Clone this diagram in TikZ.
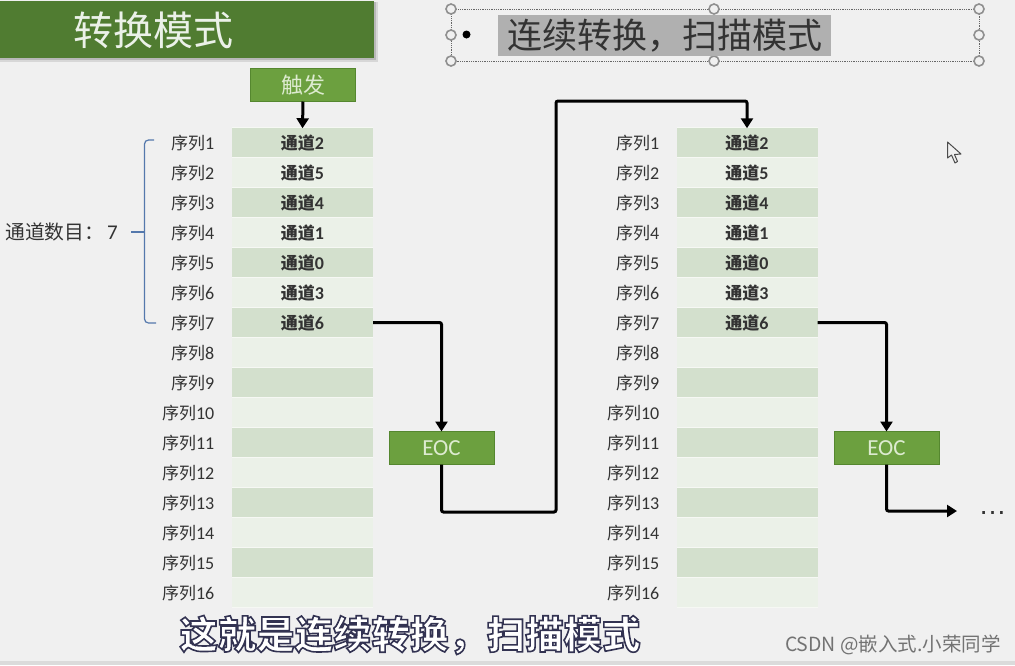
\documentclass[tikz,border=0pt]{standalone}
\usepackage{fontspec}
\setmainfont{Noto Sans CJK SC}
\newfontfamily\latinf{Carlito}
\usetikzlibrary{arrows.meta}
\definecolor{bgc}{HTML}{F0F0F0}
\definecolor{rowdark}{HTML}{D3E0CD}
\definecolor{rowlight}{HTML}{EBF1E8}
\definecolor{sepc}{HTML}{F6F8F4}
\definecolor{titlec}{HTML}{507C31}
\definecolor{boxc}{HTML}{6CA03F}
\definecolor{boxb}{HTML}{55872F}
\definecolor{boxt}{HTML}{DDEBD0}
\definecolor{inkc}{HTML}{333333}
\definecolor{bracec}{HTML}{5478AC}
\definecolor{handlec}{HTML}{8F8F8F}
\newcommand{\fsz}[1]{\fontsize{#1}{#1}\selectfont}
\newcommand{\outlined}[1]{\special{pdf:code q 2 Tr 1.6 w 0.2 0.2 0.32 RG 1 1 1 rg}#1\special{pdf:code Q}}
\tikzset{
  rowcell/.style={minimum width=141pt,minimum height=28.5pt,inner sep=0pt,outer sep=0pt},
  chanlabel/.style={inner sep=0pt,text=inkc,font=\fsz{17}\bfseries},
  seqlabel/.style={anchor=east,inner sep=0pt,text=inkc,font=\fsz{17}},
  greenbox/.style={draw=boxb,line width=1pt,fill=boxc,text=boxt,minimum width=105pt,minimum height=33pt,inner sep=0pt,outer sep=0pt},
  flow/.style={draw=black,line width=3pt,rounded corners=2pt,-{Triangle[length=10pt,width=12pt]}},
  handle/.style={circle,draw=handlec,fill=bgc,line width=1.6pt,minimum size=10pt,inner sep=0pt},
  bracepath/.style={draw=bracec,line width=1.2pt,rounded corners=4pt},
}
\begin{document}
\begin{tikzpicture}[x=1pt,y=-1pt]
\useasboundingbox (0,0) rectangle (1015,665);
\fill[bgc] (0,0) rectangle (1015,665);
\fill[black!14] (0,661) rectangle (1015,665);
% title
\fill[black,opacity=.10] (0,2) rectangle (378,62);
\fill[black,opacity=.14] (0,2) rectangle (376,60);
\node[fill=titlec,minimum width=374pt,minimum height=57pt,inner sep=0pt,anchor=north west] (title) at (0,1) {};
\node[text=rowlight,font=\fsz{40},inner sep=0pt] (titletext) at (153.5,30.5) {转换模式};
% selected text box
\draw[densely dotted,draw=black!60,line width=.8pt] (451,9) rectangle (979,61);
\foreach \n/\x/\y in {a/451/9,b/714/9,c/979/9,d/451/35,e/979/35,f/451/61,g/714/61,h/979/61}
  \node[handle] (hd\n) at (\x,\y) {};
\node[circle,fill=black,minimum size=8pt,inner sep=0pt] (bullet) at (466.5,34.5) {};
\node[fill=black!31,text=inkc,font=\fsz{35},minimum width=333pt,minimum height=41pt,inner sep=0pt] (head) at (664.5,35.5) {连续转换，扫描模式};
% tables
\foreach \t/\xc/\xl in {L/302.5/214.5,R/747/659.5}{
  \fill[sepc] (\xc-70.5,127) rectangle (\xc+70.5,608);
  \foreach \i in {1,...,16}{
    \pgfmathtruncatemacro{\odd}{mod(\i,2)}
    \pgfmathsetmacro{\yc}{112.5+30*\i}
    \ifnum\odd=1 \def\rc{rowdark}\else\def\rc{rowlight}\fi
    \node[rowcell,fill=\rc] (\t r\i) at (\xc,\yc) {};
    \node[seqlabel,yshift=-1pt] (\t s\i) at (\xl,\yc) {序列{\latinf\fsz{18}\i}};
  }
  \foreach \i/\c in {1/2,2/5,3/4,4/1,5/0,6/3,7/6}
    \node[chanlabel,yshift=-1pt] (\t c\i) at (\t r\i) {通道{\latinf\fsz{18}\bfseries\c}};
}
% green boxes
\node[greenbox,font=\fsz{22}] (trig) at (303,85) {触发};
\node[greenbox,font={\latinf\fsz{23}}] (eocL) at (441.5,448) {EOC};
\node[greenbox,font={\latinf\fsz{23}}] (eocR) at (886.5,448) {EOC};
% connectors
\draw[flow] (trig.south) -- (Lr1.north);
\draw[flow] (Lr7.east) -| (eocL.north);
\draw[flow] (Rr7.east) -| (eocR.north);
\coordinate (lp1) at (441.5,512);
\coordinate (lp2) at (556,512);
\coordinate (lp3) at (556,101);
\coordinate (lp4) at (747,101);
\draw[flow] (eocL.south) -- (lp1) -- (lp2) -- (lp3) -- (lp4) -- (Rr1.north);
\coordinate (ex1) at (886.5,511);
\coordinate (ex2) at (957,511);
\draw[flow] (eocR.south) -- (ex1) -- (ex2);
\node[anchor=base,inner sep=0pt,text=inkc,font={\fontspec{Liberation Sans}\fsz{28}}] (dots) at (992.5,514) {…};
% bracket
\coordinate (brt) at (154,140);
\coordinate (brtc) at (144.5,140);
\coordinate (brbc) at (144.5,323);
\coordinate (brb) at (156,323);
\coordinate (brm) at (144.5,232);
\coordinate (brl) at (131,232);
\draw[bracepath] (brt) -- (brtc) -- (brbc) -- (brb);
\draw[bracepath] (brl) -- (brm);
\node[anchor=west,inner sep=0pt,text=inkc,font=\fsz{19.8}] (count) at (5,232) {通道数目：\hspace{3pt}{\latinf\fsz{21}7}};
% cursor
\draw[draw=black!70,fill=bgc,line width=1pt,line join=round] (947.5,142) -- (947.5,158) -- (951.5,155) -- (955,163) -- (957.5,161.5) -- (954.5,154.5) -- (961,154) -- cycle;
% caption
\node[inner sep=0pt,font=\fsz{38.4}\bfseries,text=white] (caption) at (410,635) {\outlined{这就是连续转换，扫描模式}};
% watermark
\node[anchor=east,inner sep=0pt,text=black!55,font=\fsz{19.5}] (mark) at (1001,645) {CSDN @嵌入式.小荣同学};
\end{tikzpicture}
\end{document}
